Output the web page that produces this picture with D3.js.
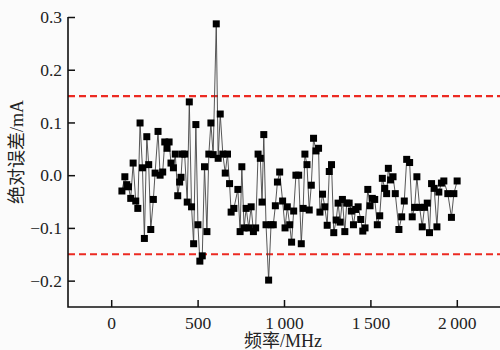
<!DOCTYPE html>
<html>
<head>
<meta charset="utf-8">
<script src="https://cdn.jsdelivr.net/npm/d3@7"></script>
<style>
  body { margin: 0; background: #fbfbfb; }
  svg { display: block; }
  .tick text { font-family: "Liberation Serif", "DejaVu Serif", serif; font-size: 17.5px; fill: #222; }
  .title { font-family: "Liberation Serif", "Noto Sans CJK SC", serif; font-size: 18px; fill: #222; }
</style>
</head>
<body>
<svg id="chart" width="500" height="350"></svg>
<script>
// frequency (MHz) and absolute error (mA)
const freq = [62, 79, 90, 100, 113, 127, 142, 154, 167, 181, 192, 206, 217, 229, 244, 254, 271, 283, 298,
  310, 323, 335, 346, 360, 371, 385, 396, 404, 412, 425, 440, 452, 465, 477, 490, 502, 513, 527, 540,
  554, 565, 577, 590, 608, 619, 631, 646, 660, 673, 685, 694, 710, 733, 746, 756, 769, 781, 796, 810,
  823, 836, 850, 863, 873, 883, 896, 911, 925, 938, 950, 962, 975, 992, 1006, 1019, 1033, 1044, 1056,
  1069, 1085, 1100, 1111, 1121, 1133, 1146, 1158, 1171, 1185, 1200, 1208, 1223, 1236, 1250, 1262,
  1275, 1288, 1302, 1313, 1325, 1338, 1352, 1363, 1377, 1390, 1402, 1415, 1429, 1444, 1456, 1469,
  1485, 1498, 1511, 1525, 1540, 1554, 1569, 1583, 1594, 1604, 1617, 1631, 1644, 1665, 1681, 1696,
  1710, 1727, 1742, 1756, 1769, 1785, 1800, 1813, 1829, 1842, 1854, 1869, 1885, 1896, 1911, 1925,
  1948, 1969, 1983, 2002];
const err = [-0.030, -0.003, -0.018, -0.022, -0.044, 0.023, -0.049, -0.063, 0.099, 0.014, -0.120, 0.073,
  0.020, -0.103, -0.046, 0.004, 0.083, 0.000, 0.006, 0.063, 0.051, 0.063, 0.023, 0.014, 0.040, -0.039,
  -0.013, -0.004, 0.040, 0.040, -0.051, 0.139, -0.060, -0.130, 0.096, -0.094, -0.163, -0.153, 0.016,
  -0.107, 0.040, 0.099, 0.039, 0.287, 0.032, 0.116, 0.040, 0.004, 0.040, -0.016, -0.070, -0.063,
  -0.027, -0.107, 0.016, -0.100, -0.063, -0.100, -0.060, -0.107, -0.100, 0.040, 0.032, -0.051, 0.077,
  -0.094, -0.199, -0.094, -0.094, -0.058, -0.013, 0.006, -0.049, -0.100, -0.060, -0.094, -0.127,
  -0.068, 0.000, 0.000, -0.130, -0.063, 0.040, 0.020, -0.066, -0.019, 0.070, 0.046, 0.051, -0.070,
  -0.036, -0.060, -0.095, 0.007, 0.020, -0.109, -0.085, -0.053, -0.089, -0.046, -0.107, -0.053,
  -0.053, -0.068, -0.094, -0.065, -0.060, -0.084, -0.106, -0.100, -0.027, -0.058, -0.044, -0.046,
  -0.094, -0.077, -0.006, -0.025, -0.035, 0.013, -0.009, -0.003, -0.035, -0.103, -0.079, -0.049,
  0.030, 0.024, -0.079, -0.061, -0.003, -0.061, -0.098, -0.061, -0.053, -0.109, -0.016, -0.025,
  -0.098, -0.032, -0.015, -0.011, -0.035, -0.080, -0.035, -0.011];
const limits = [0.15, -0.15];
const xTicks = [0, 500, 1000, 1500, 2000];
const yTicks = [-0.2, -0.1, 0.0, 0.1, 0.2, 0.3];

const svg = d3.select('#chart');
const x = d3.scaleLinear().domain([-250, 2250]).range([68, 500]);
const y = d3.scaleLinear().domain([-0.25, 0.3]).range([307, 17]);

const fmtX = d3.formatLocale({ decimal: '.', thousands: '\u2009', grouping: [3], currency: ['', ''] }).format(',');

svg.append('rect').attr('width', 500).attr('height', 350).attr('fill', '#fbfbfb');

// limit lines
svg.selectAll('.limit')
  .data(limits)
  .enter().append('line')
  .attr('class', 'limit')
  .attr('x1', x(-250)).attr('x2', x(2250))
  .attr('y1', (d) => y(d)).attr('y2', (d) => y(d))
  .attr('stroke', '#ec2a22')
  .attr('stroke-width', 2.2)
  .attr('stroke-dasharray', '7,4');

const pts = freq.map((f, i) => ({ f: f, v: err[i] }));

const line = d3.line()
  .x((d) => x(d.f))
  .y((d) => y(d.v));

svg.append('path')
  .datum(pts)
  .attr('d', line)
  .attr('fill', 'none')
  .attr('stroke', '#444')
  .attr('stroke-width', 0.9);

svg.selectAll('.pt')
  .data(pts)
  .enter().append('rect')
  .attr('class', 'pt')
  .attr('x', (d) => x(d.f) - 3.5)
  .attr('y', (d) => y(d.v) - 3.5)
  .attr('width', 7)
  .attr('height', 7)
  .attr('fill', '#000');

// axes
const xAxis = d3.axisBottom(x).tickValues(xTicks).tickSize(-7).tickPadding(6).tickFormat(fmtX);
const yAxis = d3.axisLeft(y).tickValues(yTicks).tickSize(-7).tickPadding(6).tickFormat(d3.format('.1f'));

const gx = svg.append('g').attr('transform', 'translate(0,307)').call(xAxis);
const gy = svg.append('g').attr('transform', 'translate(68,0)').call(yAxis);
[gx, gy].forEach((g) => {
  g.select('.domain').remove();
  g.selectAll('.tick line').attr('stroke', '#111').attr('stroke-width', 1.5);
});
gx.selectAll('.tick text').attr('dy', '0.9em');

svg.append('path')
  .attr('d', `M${x(-250)},${y(0.3)}V${y(-0.25)}H${x(2250)}`)
  .attr('fill', 'none')
  .attr('stroke', '#111')
  .attr('stroke-width', 1.6);

svg.append('text')
  .attr('class', 'title')
  .attr('x', 283).attr('y', 347)
  .attr('text-anchor', 'middle')
  .text('频率/MHz');

svg.append('text')
  .attr('class', 'title')
  .attr('transform', 'translate(23,152) rotate(-90)')
  .attr('text-anchor', 'middle')
  .text('绝对误差/mA');
</script>
</body>
</html>
